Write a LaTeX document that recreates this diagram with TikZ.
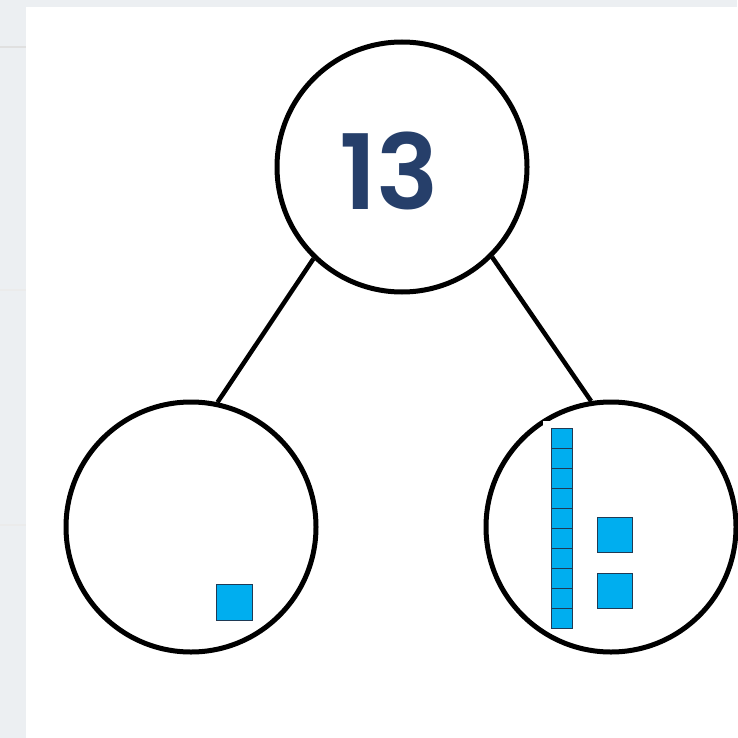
\documentclass[tikz,border=0pt]{standalone}
\usepackage{fontspec}
\newfontfamily\numfont{Poppins SemiBold}
\definecolor{bggrey}{HTML}{ECEFF2}
\definecolor{navy}{HTML}{263F6A}
\definecolor{cube}{HTML}{00AEEF}
\definecolor{cubeedge}{HTML}{1F3A55}
\tikzset{
  bubble/.style={circle, draw=black, line width=5pt, fill=white, minimum size=250pt, inner sep=0pt},
  link/.style={line width=4.5pt, draw=black},
  unitcube/.style={fill=cube, draw=cubeedge, line width=1pt},
}
\begin{document}
\begin{tikzpicture}[x=1pt,y=-1pt]
\useasboundingbox (0,0) rectangle (737,738);
\fill[bggrey] (0,0) rectangle (737,738);
\draw[black!12, line width=2pt] (0,47) -- (26,47);
\draw[black!8, line width=1.5pt] (0,290) -- (26,290);
\draw[black!8, line width=1.5pt] (0,525) -- (26,525);
\fill[white] (26,7) rectangle (737,738);
\node[bubble] (top) at (402,167) {};
\node[bubble] (left) at (191,527) {};
\node[bubble] (right) at (611,527) {};
\draw[link] (top.-134) -- (left.78);
\draw[link] (top.-45) -- (right.99);
\node[text=navy, font=\numfont\fontsize{104}{104}\selectfont, inner sep=0pt] (num) at (389,171) {13};
% left unit cube
\draw[unitcube] (216,584) rectangle (252,620);
% right: white backing of the rod image (covers a bit of the circle near its top)
\fill[white] (543,421) rectangle (579,500);
% ten-rod
\foreach \i in {0,...,9} {
  \draw[unitcube] (551,428+20*\i) rectangle (572,448+20*\i);
}
\draw[unitcube] (597,517) rectangle (632,552);
\draw[unitcube] (597,573) rectangle (632,608);
\end{tikzpicture}
\end{document}
